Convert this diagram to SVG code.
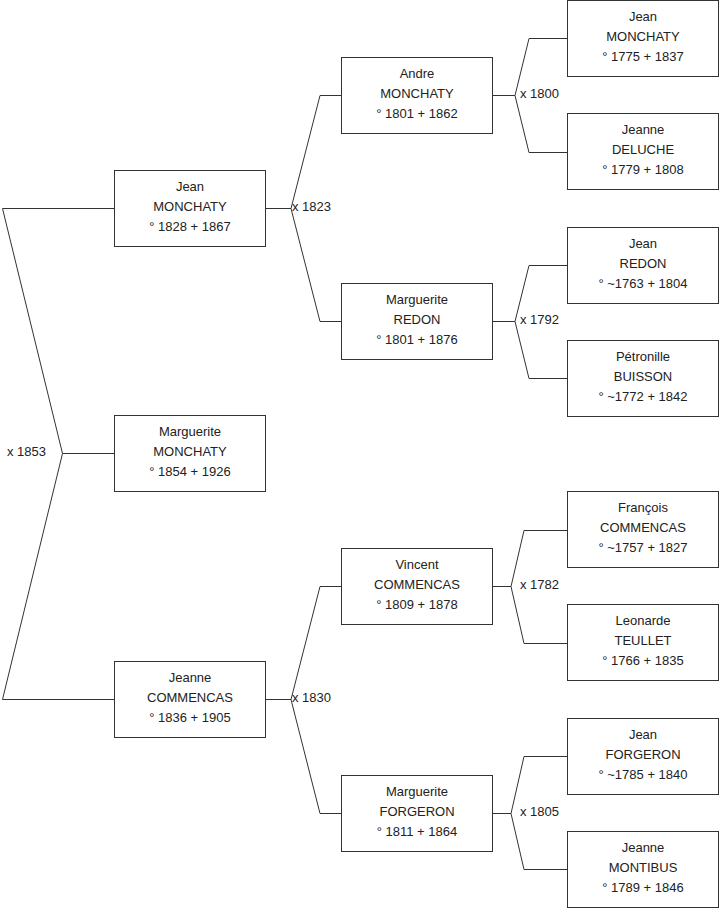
<svg xmlns="http://www.w3.org/2000/svg" width="719" height="908" viewBox="0 0 719 908">
<style>
rect.b{fill:#fff;stroke:#333;stroke-width:1}
text{font-family:"Liberation Sans",Arial,sans-serif;font-size:13px;fill:#222}
text.n{text-anchor:middle}
#connectors path{fill:none;stroke:#333;stroke-width:1}
</style>
<rect width="719" height="908" fill="#fff"/>
<g id="connectors">
<path d="M114.5,208.5 H2.5 L62.5,453.5 L2.5,699.5 H114.5 M62.5,453.5 H114.5"/>
<path d="M265.5,208.5 H291 M341.5,95.5 H320 L291,208.5 L320,321.5 H341.5"/>
<path d="M265.5,699.5 H291 M341.5,586.5 H320 L291,699.5 L320,813.5 H341.5"/>
<path d="M492.5,95.5 H515 M567.5,38.5 H529 L515,95.5 L529,152.5 H567.5"/>
<path d="M492.5,321.5 H515 M567.5,265.5 H529 L515,321.5 L529,378.5 H567.5"/>
<path d="M492.5,586.5 H511 M567.5,530.5 H524 L511,586.5 L524,643.5 H567.5"/>
<path d="M492.5,813.5 H511 M567.5,756.5 H524 L511,813.5 L524,869.5 H567.5"/>
<text x="7" y="456">x 1853</text>
<text x="292" y="211">x 1823</text>
<text x="292" y="702">x 1830</text>
<text x="520" y="98">x 1800</text>
<text x="520" y="324">x 1792</text>
<text x="520" y="589">x 1782</text>
<text x="520" y="816">x 1805</text>
</g>
<g id="p0">
<rect class="b" x="114.5" y="415.5" width="151" height="76"/>
<text class="n" x="190" y="436">Marguerite</text>
<text class="n" x="190" y="456">MONCHATY</text>
<text class="n" x="190" y="476">° 1854 + 1926</text>
</g>
<g id="p1">
<rect class="b" x="114.5" y="170.5" width="151" height="76"/>
<text class="n" x="190" y="191">Jean</text>
<text class="n" x="190" y="211">MONCHATY</text>
<text class="n" x="190" y="231">° 1828 + 1867</text>
</g>
<g id="p2">
<rect class="b" x="114.5" y="661.5" width="151" height="76"/>
<text class="n" x="190" y="682">Jeanne</text>
<text class="n" x="190" y="702">COMMENCAS</text>
<text class="n" x="190" y="722">° 1836 + 1905</text>
</g>
<g id="p3">
<rect class="b" x="341.5" y="57.5" width="151" height="76"/>
<text class="n" x="417" y="78">Andre</text>
<text class="n" x="417" y="98">MONCHATY</text>
<text class="n" x="417" y="118">° 1801 + 1862</text>
</g>
<g id="p4">
<rect class="b" x="341.5" y="283.5" width="151" height="76"/>
<text class="n" x="417" y="304">Marguerite</text>
<text class="n" x="417" y="324">REDON</text>
<text class="n" x="417" y="344">° 1801 + 1876</text>
</g>
<g id="p5">
<rect class="b" x="341.5" y="548.5" width="151" height="76"/>
<text class="n" x="417" y="569">Vincent</text>
<text class="n" x="417" y="589">COMMENCAS</text>
<text class="n" x="417" y="609">° 1809 + 1878</text>
</g>
<g id="p6">
<rect class="b" x="341.5" y="775.5" width="151" height="76"/>
<text class="n" x="417" y="796">Marguerite</text>
<text class="n" x="417" y="816">FORGERON</text>
<text class="n" x="417" y="836">° 1811 + 1864</text>
</g>
<g id="p7">
<rect class="b" x="567.5" y="0.5" width="151" height="76"/>
<text class="n" x="643" y="21">Jean</text>
<text class="n" x="643" y="41">MONCHATY</text>
<text class="n" x="643" y="61">° 1775 + 1837</text>
</g>
<g id="p8">
<rect class="b" x="567.5" y="113.5" width="151" height="76"/>
<text class="n" x="643" y="134">Jeanne</text>
<text class="n" x="643" y="154">DELUCHE</text>
<text class="n" x="643" y="174">° 1779 + 1808</text>
</g>
<g id="p9">
<rect class="b" x="567.5" y="227.5" width="151" height="76"/>
<text class="n" x="643" y="248">Jean</text>
<text class="n" x="643" y="268">REDON</text>
<text class="n" x="643" y="288">° ~1763 + 1804</text>
</g>
<g id="p10">
<rect class="b" x="567.5" y="340.5" width="151" height="76"/>
<text class="n" x="643" y="361">Pétronille</text>
<text class="n" x="643" y="381">BUISSON</text>
<text class="n" x="643" y="401">° ~1772 + 1842</text>
</g>
<g id="p11">
<rect class="b" x="567.5" y="491.5" width="151" height="76"/>
<text class="n" x="643" y="512">François</text>
<text class="n" x="643" y="532">COMMENCAS</text>
<text class="n" x="643" y="552">° ~1757 + 1827</text>
</g>
<g id="p12">
<rect class="b" x="567.5" y="604.5" width="151" height="76"/>
<text class="n" x="643" y="625">Leonarde</text>
<text class="n" x="643" y="645">TEULLET</text>
<text class="n" x="643" y="665">° 1766 + 1835</text>
</g>
<g id="p13">
<rect class="b" x="567.5" y="718.5" width="151" height="76"/>
<text class="n" x="643" y="739">Jean</text>
<text class="n" x="643" y="759">FORGERON</text>
<text class="n" x="643" y="779">° ~1785 + 1840</text>
</g>
<g id="p14">
<rect class="b" x="567.5" y="831.5" width="151" height="76"/>
<text class="n" x="643" y="852">Jeanne</text>
<text class="n" x="643" y="872">MONTIBUS</text>
<text class="n" x="643" y="892">° 1789 + 1846</text>
</g>
</svg>
